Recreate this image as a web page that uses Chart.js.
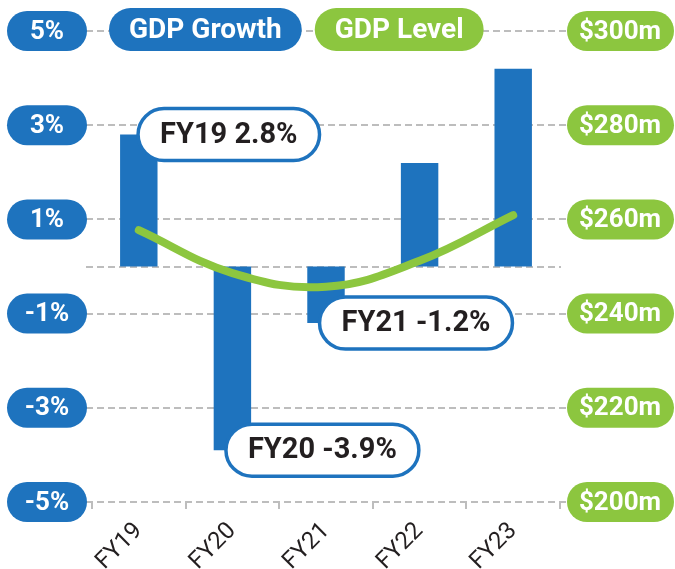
<!DOCTYPE html>
<html>
<head>
<meta charset="utf-8">
<script src="https://cdn.jsdelivr.net/npm/chart.js@4"></script>
<style>
  html, body { margin: 0; padding: 0; background: #fff; }
  canvas { display: block; }
</style>
</head>
<body>
<canvas id="gdpChart" width="675" height="569"></canvas>
<script>
const YEARS = ["FY19", "FY20", "FY21", "FY22", "FY23"];
const GROWTH = [2.8, -3.9, -1.2, 2.2, 4.2];
const LEVEL = [257.7, 248.6, 245.7, 251.2, 260.9];
const GROWTH_TICKS = [5, 3, 1, -1, -3, -5];
const LEVEL_TICKS = [300, 280, 260, 240, 220, 200];
const CALLOUTS = [0, 1, 2];

const BLUE = "#1e73be";
const GREEN = "#8cc63f";
const GRID = "#bdbdbd";
const INK = "#231f20";
const FONT = "Roboto, 'Liberation Sans', sans-serif";

function pill(ctx, x, y, w, h, fill, stroke, lw) {
  const r = h / 2;
  ctx.beginPath();
  ctx.moveTo(x + r, y);
  ctx.lineTo(x + w - r, y);
  ctx.arc(x + w - r, y + r, r, -Math.PI / 2, Math.PI / 2);
  ctx.lineTo(x + r, y + h);
  ctx.arc(x + r, y + r, r, Math.PI / 2, Math.PI * 1.5);
  ctx.closePath();
  ctx.fillStyle = fill;
  ctx.fill();
  if (stroke) {
    ctx.lineWidth = lw;
    ctx.strokeStyle = stroke;
    ctx.stroke();
  }
}

function label(ctx, text, cx, cy, font, color) {
  ctx.font = font;
  ctx.fillStyle = color;
  ctx.textAlign = "center";
  ctx.textBaseline = "middle";
  ctx.fillText(text, cx, cy + 1);
}

const decor = {
  id: "decor",
  beforeDatasetsDraw(chart) {
    const ctx = chart.ctx, y = chart.scales.y;
    ctx.save();
    ctx.setLineDash([7, 4]);
    ctx.lineWidth = 2;
    ctx.strokeStyle = GRID;
    GROWTH_TICKS.concat([0]).forEach(v => {
      const py = Math.round(y.getPixelForValue(v));
      ctx.beginPath();
      ctx.moveTo(86, py);
      ctx.lineTo(v === 0 ? 561 : 568, py);
      ctx.stroke();
    });
    ctx.restore();
  },
  afterDatasetsDraw(chart) {
    const ctx = chart.ctx, x = chart.scales.x, y = chart.scales.y, y1 = chart.scales.y1;
    ctx.save();

    // axis pills
    GROWTH_TICKS.forEach(v => {
      const py = y.getPixelForValue(v);
      pill(ctx, 7, py - 20, 80, 40, BLUE);
      label(ctx, v + "%", 47, py, "bold 26px " + FONT, "#fff");
    });
    LEVEL_TICKS.forEach(v => {
      const py = y1.getPixelForValue(v);
      pill(ctx, 567, py - 20, 107, 40, GREEN);
      label(ctx, "$" + v + "m", 620, py, "bold 26px " + FONT, "#fff");
    });

    // legend pills
    let lx = 109;
    chart.data.datasets.forEach(ds => {
      ctx.font = "bold 28px " + FONT;
      const w = ctx.measureText(ds.label).width + 40;
      pill(ctx, lx, 8, w, 43, ds.legendColor);
      label(ctx, ds.label, lx + w / 2, 29.5, "bold 28px " + FONT, "#fff");
      lx += w + 13;
    });

    // callouts
    CALLOUTS.forEach(i => {
      const text = YEARS[i] + " " + GROWTH[i].toFixed(1) + "%";
      ctx.font = "bold 29px " + FONT;
      const w = ctx.measureText(text).width + 44;
      const cx = x.getPixelForValue(i) + 90;
      const cy = y.getPixelForValue(GROWTH[i]);
      pill(ctx, cx - w / 2, cy - 26, w, 52, "#fff", BLUE, 3.5);
      label(ctx, text, cx, cy, "bold 29px " + FONT, INK);
    });

    ctx.restore();
  }
};

new Chart(document.getElementById("gdpChart"), {
  type: "bar",
  data: {
    labels: YEARS,
    datasets: [
      {
        type: "bar",
        label: "GDP Growth",
        data: GROWTH,
        legendColor: BLUE,
        backgroundColor: BLUE,
        barPercentage: 0.4,
        categoryPercentage: 1,
        yAxisID: "y",
        order: 2
      },
      {
        type: "line",
        label: "GDP Level",
        data: LEVEL,
        legendColor: GREEN,
        borderColor: GREEN,
        borderWidth: 8,
        borderCapStyle: "round",
        tension: 0.4,
        pointRadius: 0,
        yAxisID: "y1",
        order: 1
      }
    ]
  },
  options: {
    responsive: false,
    animation: false,
    layout: { padding: { top: 31, left: 92, right: 115, bottom: 0 } },
    plugins: { legend: { display: false }, tooltip: { enabled: false } },
    scales: {
      x: {
        offset: true,
        grid: { offset: true, drawOnChartArea: false, drawTicks: true, tickLength: 7, color: GRID, lineWidth: 2 },
        border: { display: false },
        ticks: { color: INK, font: { family: FONT, size: 24 }, minRotation: 45, maxRotation: 45, padding: 8 },
        afterFit: s => { s.height = 67; }
      },
      y: { display: false, min: -5, max: 5 },
      y1: { display: false, min: 200, max: 300 }
    }
  },
  plugins: [decor]
});
</script>
</body>
</html>
